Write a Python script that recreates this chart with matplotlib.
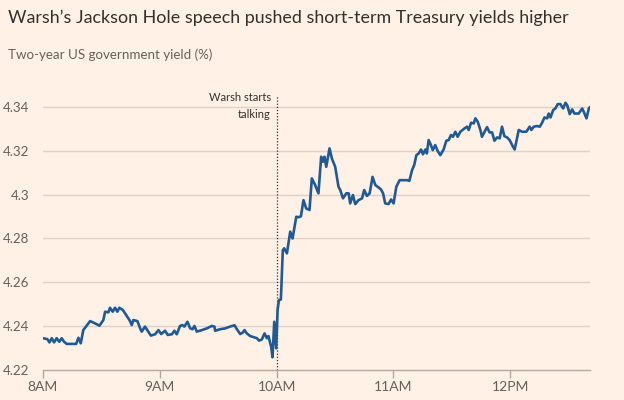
import matplotlib
matplotlib.use('Agg')
import matplotlib.pyplot as plt

# minutes after 8AM and two-year yield (%)
minutes = [0, 2.2, 3.3, 4.5, 5.7, 7.0, 8.4, 9.6, 10.8, 12.2, 14.7, 17.0, 18.2, 19.4, 20.7,
           22.4, 24.2, 26.7, 29.0, 31.0, 31.9, 33.6, 34.4, 35.8, 37.0, 38.2, 39.2, 41.0, 42.7,
           44.4, 45.6, 46.4, 48.5, 49.9, 50.7, 52.4, 54.1, 55.4, 57.6, 59.3, 60.7, 62.7, 64.1,
           66.2, 67.5, 68.7, 70.4, 71.6, 72.6, 74.2, 75.6, 76.8, 77.8, 79.0, 81.6, 84.2, 86.7,
           88.1, 88.4, 91.0, 93.6, 96.1, 98.4, 99.6, 101.3, 102.5, 103.5, 104.7, 106.4, 108.6,
           109.9, 111.0, 112.4, 113.8, 115.0, 115.8, 117.2, 117.9, 118.8, 119.8, 120.5, 121.2,
           122.2, 123.2, 123.9, 125.3, 127.0, 128.2, 130.1, 131.3, 132.5, 133.8, 135.2, 136.9,
           138.1, 139.8, 141.5, 142.9, 143.8, 144.6, 145.5, 147.2, 148.4, 150.1, 151.8, 152.7,
           154.1, 155.8, 157.0, 157.8, 159.2, 160.4, 162.1, 163.9, 165.0, 166.4, 167.8, 169.3,
           170.7, 171.9, 173.6, 174.7, 175.8, 177.5, 178.8, 180.1, 181.5, 183.2, 187.0, 188.2,
           189.6, 190.7, 191.8, 193.0, 194.2, 195.2, 196.4, 197.2, 198.1, 199.3, 200.2, 201.5,
           202.7, 204.1, 205.8, 207.2, 208.4, 209.6, 210.6, 211.8, 213.0, 214.4, 216.5, 217.8,
           218.7, 219.9, 221.3, 222.1, 223.3, 224.7, 225.5, 226.7, 228.1, 229.4, 230.7, 231.9,
           233.3, 234.6, 235.8, 237.0, 238.4, 239.7, 241.5, 242.3, 243.5, 244.4, 246.1, 248.3,
           250.0, 250.9, 252.1, 253.8, 255.2, 256.4, 257.6, 259.0, 259.8, 260.7, 262.1, 263.2,
           264.4, 265.8, 267.2, 268.4, 269.3, 270.6, 271.8, 273.0, 275.2, 277.0, 277.8, 279.2,
           280.4, 280.9]
yields = [4.2345, 4.2341, 4.2326, 4.2345, 4.2326, 4.2345, 4.2329, 4.2345, 4.2329, 4.2319,
          4.2319, 4.2319, 4.2347, 4.2322, 4.2382, 4.2402, 4.2423, 4.2413, 4.2402, 4.2428,
          4.2466, 4.2463, 4.2484, 4.2466, 4.2484, 4.2466, 4.2484, 4.2474, 4.2451, 4.2428,
          4.2405, 4.2428, 4.2423, 4.2390, 4.2375, 4.2398, 4.2375, 4.2357, 4.2363, 4.2382,
          4.2364, 4.2379, 4.2360, 4.2363, 4.2379, 4.2363, 4.2401, 4.2405, 4.2398, 4.2420,
          4.2390, 4.2386, 4.2401, 4.2375, 4.2382, 4.2390, 4.2401, 4.2398, 4.2379, 4.2386,
          4.2390, 4.2398, 4.2404, 4.2386, 4.2364, 4.2370, 4.2382, 4.2367, 4.2355, 4.2349,
          4.2345, 4.2334, 4.2339, 4.2367, 4.2345, 4.2355, 4.2306, 4.2258, 4.2420, 4.2299,
          4.2474, 4.2519, 4.2522, 4.2747, 4.2755, 4.2732, 4.2831, 4.2800, 4.2899, 4.2897,
          4.2901, 4.2975, 4.2937, 4.2930, 4.3074, 4.3044, 4.3006, 4.3173, 4.3150, 4.3173,
          4.3127, 4.3211, 4.3165, 4.3127, 4.3036, 4.3021, 4.2983, 4.3006, 4.3006, 4.2960,
          4.2998, 4.2957, 4.2975, 4.2983, 4.3021, 4.2994, 4.3006, 4.3081, 4.3044, 4.3036,
          4.3024, 4.3006, 4.2960, 4.2957, 4.2978, 4.2960, 4.3036, 4.3066, 4.3066, 4.3063,
          4.3112, 4.3135, 4.3180, 4.3188, 4.3206, 4.3184, 4.3206, 4.3188, 4.3249, 4.3226,
          4.3203, 4.3226, 4.3200, 4.3180, 4.3206, 4.3246, 4.3249, 4.3272, 4.3264, 4.3287,
          4.3264, 4.3287, 4.3302, 4.3310, 4.3295, 4.3328, 4.3325, 4.3348, 4.3333, 4.3295,
          4.3264, 4.3284, 4.3308, 4.3284, 4.3284, 4.3246, 4.3261, 4.3257, 4.3310, 4.3267,
          4.3261, 4.3249, 4.3218, 4.3206, 4.3257, 4.3295, 4.3287, 4.3287, 4.3310, 4.3295,
          4.3310, 4.3313, 4.3310, 4.3328, 4.3352, 4.3348, 4.3370, 4.3352, 4.3386, 4.3393,
          4.3413, 4.3413, 4.3393, 4.3419, 4.3408, 4.3367, 4.3389, 4.3370, 4.3370, 4.3393,
          4.3378, 4.3348, 4.3393, 4.3398]

tick_pos = [0, 60, 120, 180, 240]
tick_labels = ['8AM', '9AM', '10AM', '11AM', '12PM']
y_ticks = [4.22, 4.24, 4.26, 4.28, 4.30, 4.32, 4.34]
y_labels = ['4.22', '4.24', '4.26', '4.28', '4.3', '4.32', '4.34']
event_min = 120

bg = '#FFF1E5'
text_dark = '#33302E'
text_grey = '#66605C'

plt.rcParams['font.family'] = ['Lato', 'DejaVu Sans']

fig = plt.figure(figsize=(6.24, 4.0), dpi=100, facecolor=bg)
ax = fig.add_axes([43 / 624, 0.075, (590 - 43) / 624, 0.685])
ax.set_facecolor(bg)

ax.plot(minutes, yields, color='#1F5A96', lw=1.9, solid_joinstyle='round', zorder=3)

ax.set_xlim(0, 281)
ax.set_ylim(4.22, 4.345)

for yv in y_ticks[1:]:
    ax.axhline(yv, color='#DCD2C8', lw=1.0, zorder=1)

ax.axvline(event_min, color='#33302E', lw=0.9, ls=(0, (1, 1.5)), zorder=2)
ax.text(event_min - 3, 4.3405, 'Warsh starts\ntalking', ha='right', va='center',
        fontsize=8, color=text_dark, linespacing=1.6)

for s in ['top', 'right', 'left']:
    ax.spines[s].set_visible(False)
ax.spines['bottom'].set_color('#B3A99F')
ax.spines['bottom'].set_linewidth(1.0)

ax.set_xticks(tick_pos)
ax.set_xticklabels(tick_labels)
ax.tick_params(axis='x', length=6, width=1.0, color='#B3A99F', labelsize=10,
               labelcolor=text_grey, pad=2)
ax.set_yticks(y_ticks)
ax.set_yticklabels(y_labels)
ax.tick_params(axis='y', length=0, labelsize=9.6, labelcolor=text_grey, pad=10)

fig.text(8 / 624, 1 - 18 / 400, 'Warsh\u2019s Jackson Hole speech pushed short-term Treasury yields higher',
         ha='left', va='center', fontsize=12.9, color=text_dark)
fig.text(8 / 624, 1 - 55 / 400, 'Two-year US government yield (%)',
         ha='left', va='center', fontsize=9.6, color=text_grey)

fig.savefig('out.png', dpi=100, facecolor=bg)
